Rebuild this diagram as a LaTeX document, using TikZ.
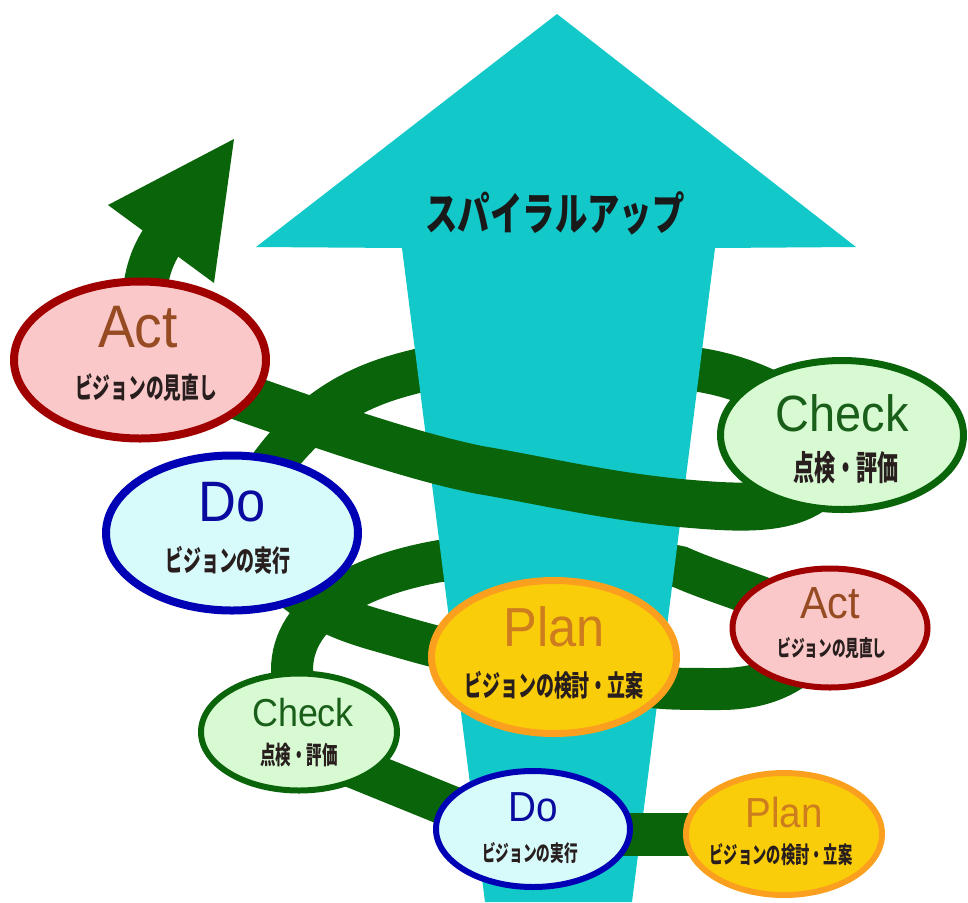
\documentclass[tikz,border=0pt]{standalone}
\usepackage{fontspec}
\usepackage{tikz}
\usetikzlibrary{shapes.geometric}
\setmainfont{Liberation Sans}
\newfontfamily\latfont[FakeStretch=0.92]{Liberation Sans}
\newfontfamily\jpfont[FakeStretch=0.62]{Noto Sans CJK JP}
\newfontfamily\jptitle[FakeStretch=0.72]{Noto Sans CJK JP}
\definecolor{bandgreen}{RGB}{10,100,10}
\definecolor{upcyan}{RGB}{18,200,200}
\definecolor{actline}{RGB}{160,0,0}
\definecolor{actfill}{RGB}{250,200,200}
\definecolor{acttext}{RGB}{150,75,35}
\definecolor{checkline}{RGB}{10,100,10}
\definecolor{checkfill}{RGB}{215,250,210}
\definecolor{checktext}{RGB}{25,95,25}
\definecolor{doline}{RGB}{0,0,180}
\definecolor{dofill}{RGB}{215,250,250}
\definecolor{dotext}{RGB}{10,10,160}
\definecolor{planline}{RGB}{250,160,30}
\definecolor{planfill}{RGB}{250,205,10}
\definecolor{plantext}{RGB}{205,125,30}
\definecolor{subdark}{RGB}{40,30,30}
\pgfdeclarelayer{backband}
\pgfdeclarelayer{uparrow}
\pgfdeclarelayer{frontband}
\pgfsetlayers{backband,uparrow,frontband,main}
\tikzset{
	band/.style={draw=bandgreen,line width=#1},
	band/.default=42pt,
	actnode/.style 2 args={ellipse,draw=actline,fill=actfill,minimum width=#1,minimum height=#2,inner sep=0pt},
	checknode/.style 2 args={ellipse,draw=checkline,fill=checkfill,minimum width=#1,minimum height=#2,inner sep=0pt},
	donode/.style 2 args={ellipse,draw=doline,fill=dofill,minimum width=#1,minimum height=#2,inner sep=0pt},
	plannode/.style 2 args={ellipse,draw=planline,fill=planfill,minimum width=#1,minimum height=#2,inner sep=0pt},
	head/.style 2 args={font=\latfont\fontsize{#1}{#1}\selectfont,text=#2,inner sep=0pt},
	subtxt/.style={font=\jpfont\bfseries\fontsize{#1}{#1}\selectfont,text=subdark,inner sep=0pt}
}

\begin{document}
\begin{tikzpicture}[x=1pt,y=-1pt]
	\useasboundingbox (0,0) rectangle (968,902);

	\node [actnode={252pt}{157pt},line width=8pt] (acta) at (140,360) {};
	\node [checknode={243pt}{149pt},line width=7pt] (checka) at (842,435) {};
	\node [donode={252pt}{155pt},line width=8pt] (doa) at (232,533) {};
	\node [plannode={245pt}{153pt},line width=7pt] (plana) at (554,657) {};

	\node [actnode={195pt}{119pt},line width=6pt] (actb) at (830,628) {};
	\node [checknode={196pt}{117pt},line width=6pt] (checkb) at (299,732) {};
	\node [donode={194pt}{116pt},line width=6pt] (dob) at (533,829) {};
	\node [plannode={196pt}{122pt},line width=6pt] (planb) at (784,834) {};

	\node [head={60}{acttext}] (acta-h) at ([xshift=-2pt,yshift=33pt]acta.center) {Act};
	\node [subtxt=28.5] (acta-s) at ([xshift=6pt,yshift=-27pt]acta.center) {ビジョンの見直し};
	\node [head={51}{checktext}] (checka-h) at ([yshift=22pt]checka.center) {Check};
	\node [subtxt=34] (checka-s) at ([xshift=4pt,yshift=-33pt]checka.center) {点検・評価};
	\node [head={57}{dotext}] (doa-h) at ([yshift=31pt]doa.center) {Do};
	\node [subtxt=29] (doa-s) at ([xshift=-4pt,yshift=-27pt]doa.center) {ビジョンの実行};
	\node [head={55}{plantext}] (plana-h) at ([yshift=30pt]plana.center) {Plan};
	\node [subtxt=29] (plana-s) at ([yshift=-28pt]plana.center) {ビジョンの検討・立案};

	\node [head={45}{acttext}] (actb-h) at ([yshift=25pt]actb.center) {Act};
	\node [subtxt=22] (actb-s) at ([xshift=2pt,yshift=-20pt]actb.center) {ビジョンの見直し};
	\node [head={39}{checktext}] (checkb-h) at ([xshift=4pt,yshift=19pt]checkb.center) {Check};
	\node [subtxt=25] (checkb-s) at ([yshift=-23pt]checkb.center) {点検・評価};
	\node [head={42}{dotext}] (dob-h) at ([yshift=22pt]dob.center) {Do};
	\node [subtxt=22] (dob-s) at ([xshift=-3pt,yshift=-24pt]dob.center) {ビジョンの実行};
	\node [head={42}{plantext}] (planb-h) at ([yshift=22pt]planb.center) {Plan};
	\node [subtxt=23] (planb-s) at ([xshift=-3pt,yshift=-21pt]planb.center) {ビジョンの検討・立案};

	\node [font=\jptitle\bfseries\fontsize{45}{45}\selectfont,text=black!90,inner sep=0pt] (spiral) at (555,213) {スパイラルアップ};

	\begin{pgfonlayer}{uparrow}
		\fill [upcyan] (557,14) -- (856,247) -- (715,248) -- (632,902) -- (485,902) -- (402,248) -- (256,247) -- cycle;
	\end{pgfonlayer}

	\begin{pgfonlayer}{backband}
		\draw [band=44pt] (checka.center) .. controls (790,400) and (750,378) .. (700,370) -- (417,371) .. controls (360,385) and (290,410) .. (doa.center);
		\draw [band] (checkb.center) -- (292,670) .. controls (292,610) and (360,575) .. (440,561) .. controls (560,555) and (640,558) .. (680,567) .. controls (720,585) and (780,600) .. (actb.center);
	\end{pgfonlayer}

	\begin{pgfonlayer}{frontband}
		\draw [band=43pt] (planb.center) -- (dob.center |- planb.center);
		\draw [band] ([yshift=-13pt]checkb.center) -- ([yshift=-11pt]dob.center);
		\draw [band] (actb.center) to[out=-120,in=0] (720,689) .. controls (640,689) .. (plana.center);
		\draw [band] (plana.center) .. controls (480,662) and (440,648) .. (380,631) .. controls (320,614) and (300,600) .. (doa.center);
		\draw [band=48pt] (checka.center) .. controls (830,515) and (760,510) .. (680,503) .. controls (600,495) and (540,480) .. (480,470) .. controls (420,458) and (330,430) .. (acta.center);
		\draw [band=44pt] (acta.center) .. controls (142,290) and (146,264) .. (164,238);
		\fill [bandgreen] (108,205) -- (234,139) -- (214,283) -- cycle;
	\end{pgfonlayer}
\end{tikzpicture}
\end{document}
